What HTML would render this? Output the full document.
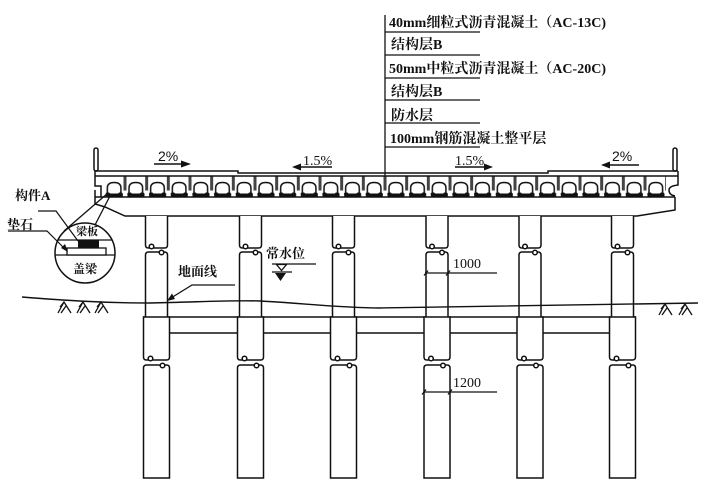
<!DOCTYPE html>
<html><head><meta charset="utf-8"><style>
html,body{margin:0;padding:0;background:#fff;}
svg{display:block;}
.t{font-family:"Liberation Serif","Noto Serif CJK SC",serif;font-weight:bold;fill:#111;}
.s{font-family:"Liberation Sans",sans-serif;fill:#111;}
.r{font-family:"Liberation Serif",serif;fill:#111;}
</style></head><body>
<svg width="708" height="487" viewBox="0 0 708 487" xmlns="http://www.w3.org/2000/svg">
<defs>
<pattern id="slab" patternUnits="userSpaceOnUse" x="123.5" y="176" width="21.667" height="21">
 <rect x="0" y="0.5" width="3" height="14" fill="#444"/>
 <path d="M5.5,19 V12 Q5.5,6.5 12.3,6.5 Q19.1,6.5 19.1,12 V19" fill="none" stroke="#111" stroke-width="1.5"/>
 <rect x="4" y="17.5" width="17" height="3.5" fill="#111"/>
 <ellipse cx="6" cy="18" rx="2.2" ry="1.6" fill="#111"/>
 <ellipse cx="18.6" cy="18" rx="2.2" ry="1.6" fill="#111"/>
</pattern>
<g id="col" fill="#fff" stroke="#111" stroke-width="1.5">
 <path d="M-11,216 V245 Q-11,248 -8,248 H8 Q11,248 11,245 V216"/>
 <circle cx="-5" cy="246.5" r="2.3"/>
 <path d="M-11,317 V255 Q-11,252 -8,252 H8 Q11,252 11,255 V317"/>
 <circle cx="5" cy="252.5" r="2.3"/>
 <path d="M-13,317 H13 V357 Q13,360 10,360 H-10 Q-13,360 -13,357 Z"/>
 <circle cx="-6" cy="358.5" r="2.3"/>
 <path d="M-13,478 V368 Q-13,365 -10,365 H10 Q13,365 13,368 V478 Z"/>
 <circle cx="6" cy="365.5" r="2.3"/>
</g>
</defs>

<!-- top layer labels -->
<g stroke="#111" stroke-width="1.3" fill="none">
 <line x1="385" y1="15" x2="385" y2="176"/>
 <line x1="385" y1="32" x2="480" y2="32"/>
 <line x1="385" y1="55" x2="480" y2="55"/>
 <line x1="385" y1="78" x2="480" y2="78"/>
 <line x1="385" y1="100" x2="480" y2="100"/>
 <line x1="385" y1="123" x2="480" y2="123"/>
 <line x1="385" y1="147" x2="480" y2="147"/>
</g>
<g class="t" font-size="14">
 <text x="389" y="27">40mm细粒式沥青混凝土（AC-13C)</text>
 <text x="391" y="49">结构层B</text>
 <text x="389" y="73">50mm中粒式沥青混凝土（AC-20C)</text>
 <text x="391" y="96">结构层B</text>
 <text x="391" y="120">防水层</text>
 <text x="390" y="143">100mm钢筋混凝土整平层</text>
</g>

<!-- slope arrows -->
<text class="s" x="158" y="161" font-size="14">2%</text>
<text class="r" x="303" y="165" font-size="14">1.5%</text>
<text class="r" x="455" y="165" font-size="14">1.5%</text>
<text class="s" x="612" y="161" font-size="14">2%</text>
<g stroke="#111" stroke-width="1.4">
 <line x1="154" y1="164" x2="184" y2="164"/>
 <line x1="299" y1="167" x2="332" y2="167"/>
 <line x1="455" y1="167" x2="486" y2="167"/>
 <line x1="608" y1="165" x2="639" y2="165"/>
</g>
<g fill="#111">
 <polygon points="191,164 181,160.5 181,167.5"/>
 <polygon points="292,167 301,163.5 301,170.5"/>
 <polygon points="493,167 484,163.5 484,170.5"/>
 <polygon points="601,165 610,161.5 610,168.5"/>
</g>

<!-- deck -->
<rect x="105" y="176" width="561" height="21" fill="url(#slab)"/>
<g stroke="#111" stroke-width="1.5" fill="none">
 <rect x="94" y="148" width="4" height="23" rx="2" fill="#fff"/>
 <rect x="673" y="148" width="4" height="23" rx="2" fill="#fff"/>
 <path d="M95,171 H238 V173 H548 V171 H678"/>
 <line x1="95" y1="176" x2="678" y2="176"/>
 <path d="M95,171 V186 H101 V197"/>
 <path d="M678,171 V185 Q669,186 669,190 Q669,195 675,196"/>
 <line x1="95" y1="197" x2="675" y2="197"/>
 <path d="M95,190 V204 L105,207 L125,216 H637 L675,210 V197"/>
</g>

<!-- tie beam -->
<g stroke="#111" stroke-width="1.5">
 <line x1="143" y1="317" x2="636" y2="317"/>
 <line x1="143" y1="333" x2="636" y2="333"/>
</g>

<!-- columns / piles -->
<use href="#col" x="156.5"/>
<use href="#col" x="250.5"/>
<use href="#col" x="343.5"/>
<use href="#col" x="437"/>
<use href="#col" x="530"/>
<use href="#col" x="622.5"/>

<!-- ground line -->
<path d="M22,297 C60,300 100,303 150,303 C200,302 230,300 260,301 C300,303 340,308 380,308 C450,307 550,305 698,303" fill="none" stroke="#111" stroke-width="1.4"/>
<g stroke="#111" stroke-width="1.3" fill="none">
 <path d="M58,313 L64,302 L71,313 M61,313 L66,306 M64,302 L60,307"/>
 <path d="M77,313 L83,302 L90,313 M80,313 L85,306 M83,302 L79,307"/>
 <path d="M95,313 L101,302 L108,313 M98,313 L103,306 M101,302 L97,307"/>
 <path d="M659,315 L665,304 L672,315 M662,315 L667,308 M665,304 L661,309"/>
 <path d="M679,315 L685,304 L692,315 M682,315 L687,308 M685,304 L681,309"/>
</g>

<!-- ground line label -->
<text class="t" x="178" y="276" font-size="13">地面线</text>
<polyline points="235,285 192,285 171,298" fill="none" stroke="#111" stroke-width="1.3"/>
<polygon points="167,301 172,293.5 175,299" fill="#111"/>

<!-- water level -->
<text class="t" x="266" y="258" font-size="13">常水位</text>
<g stroke="#111" stroke-width="1.3">
 <line x1="272" y1="264" x2="316" y2="264"/>
 <polygon points="276.5,264.5 286.5,264.5 281.5,270.5" fill="#fff"/>
 <line x1="272" y1="272" x2="292" y2="272"/>
</g>
<polygon points="275,273 286,273 280.5,281" fill="#111"/>

<!-- dimensions -->
<text class="r" x="453" y="268" font-size="14">1000</text>
<text class="r" x="453" y="387" font-size="14">1200</text>
<g stroke="#111" stroke-width="1.2">
 <line x1="425" y1="273" x2="497" y2="273"/>
 <line x1="424" y1="275.5" x2="428" y2="270.5"/>
 <line x1="446" y1="275.5" x2="450" y2="270.5"/>
 <line x1="424" y1="392" x2="497" y2="392"/>
 <line x1="422" y1="394.5" x2="426" y2="389.5"/>
 <line x1="448" y1="394.5" x2="452" y2="389.5"/>
</g>

<!-- detail circle -->
<g stroke="#111" stroke-width="1.3" fill="none">
 <line x1="64" y1="231" x2="108" y2="193"/>
 <line x1="95" y1="225" x2="111" y2="194"/>
</g>
<circle cx="85" cy="253" r="30" fill="#fff" stroke="#111" stroke-width="1.5"/>
<g stroke="#111" stroke-width="1.3">
 <line x1="58" y1="240" x2="112" y2="240"/>
 <line x1="55" y1="255" x2="115" y2="255"/>
 <rect x="67" y="248" width="39" height="7" fill="#fff"/>
</g>
<rect x="78" y="240" width="21" height="8" fill="#111"/>
<text class="t" x="76" y="235" font-size="11">梁板</text>
<text class="t" x="73" y="273" font-size="12">盖梁</text>
<text class="t" x="15" y="200" font-size="13">构件A</text>
<text class="t" x="7" y="229" font-size="13">垫石</text>
<g stroke="#111" stroke-width="1.2" fill="none">
 <polyline points="38,211 56,211 78,241"/>
 <polyline points="8,231 47,231 66,250"/>
</g>
<polygon points="68,252 61,248 65,244" fill="#111"/>
</svg>
</body></html>
